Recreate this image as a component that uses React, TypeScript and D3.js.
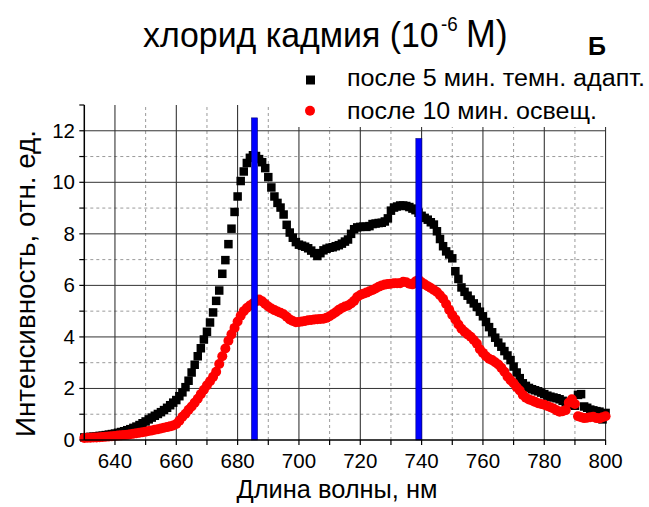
import React from "react";
import * as d3 from "d3";

// Spectra sampled every 1 nm from 630 to 800 nm
const wavelengths: number[] = d3.range(630, 801, 1);

// after 5 min of dark adaptation (black squares)
const darkAdapted: number[] = [
  0.10, 0.11, 0.12, 0.13, 0.14, 0.16, 0.17, 0.19, 0.21, 0.23,
  0.25, 0.28, 0.31, 0.34, 0.38, 0.42, 0.47, 0.52, 0.58, 0.65,
  0.72, 0.80, 0.87, 0.94, 1.01, 1.08, 1.16, 1.25, 1.35, 1.45,
  1.55, 1.70, 1.85, 2.05, 2.30, 2.62, 2.92, 3.25, 3.56, 3.90,
  4.20, 4.56, 4.95, 5.40, 5.80, 6.45, 6.98, 7.60, 8.20, 8.85,
  9.45, 10.05, 10.42, 10.75, 10.95, 11.05, 11.02, 10.90, 10.78, 10.55,
  10.20, 9.80, 9.45, 9.20, 9.02, 8.75, 8.35, 8.05, 7.85, 7.68,
  7.58, 7.54, 7.50, 7.44, 7.35, 7.25, 7.14, 7.25, 7.36, 7.42,
  7.46, 7.48, 7.52, 7.56, 7.62, 7.70, 7.78, 8.00, 8.18, 8.25,
  8.27, 8.28, 8.27, 8.30, 8.38, 8.40, 8.42, 8.43, 8.48, 8.60,
  8.90, 9.02, 9.06, 9.10, 9.10, 9.08, 9.04, 8.98, 8.92, 8.82,
  8.70, 8.62, 8.55, 8.45, 8.36, 8.10, 7.80, 7.52, 7.32, 7.20,
  7.05, 6.55, 6.25, 5.92, 5.75, 5.60, 5.45, 5.30, 5.16, 4.98,
  4.80, 4.58, 4.38, 4.18, 3.97, 3.78, 3.62, 3.45, 3.28, 3.10,
  2.85, 2.62, 2.40, 2.20, 2.10, 2.02, 1.97, 1.93, 1.89, 1.84,
  1.78, 1.72, 1.68, 1.65, 1.62, 1.58, 1.52, 1.46, 1.40, 1.36,
  1.33, 1.75, 1.78, 1.30, 1.25, 1.18, 1.15, 1.12, 1.10, 0.80,
  1.05,
];

// after 10 min of illumination (red circles)
const illuminated: number[] = [
  0.08, 0.09, 0.09, 0.10, 0.10, 0.11, 0.12, 0.13, 0.14, 0.15,
  0.16, 0.17, 0.18, 0.19, 0.20, 0.22, 0.24, 0.26, 0.28, 0.30,
  0.32, 0.35, 0.37, 0.40, 0.42, 0.45, 0.48, 0.50, 0.53, 0.56,
  0.62, 0.75, 0.90, 1.02, 1.17, 1.30, 1.45, 1.60, 1.78, 1.95,
  2.12, 2.28, 2.45, 2.65, 2.95, 3.25, 3.55, 3.85, 4.10, 4.35,
  4.60, 4.82, 5.00, 5.12, 5.22, 5.30, 5.38, 5.45, 5.38, 5.28,
  5.18, 5.10, 5.04, 4.99, 4.94, 4.88, 4.78, 4.68, 4.62, 4.57,
  4.58, 4.60, 4.62, 4.65, 4.66, 4.68, 4.69, 4.70, 4.71, 4.74,
  4.80, 4.88, 4.96, 5.05, 5.12, 5.18, 5.22, 5.30, 5.40, 5.55,
  5.63, 5.68, 5.72, 5.77, 5.82, 5.88, 5.95, 6.00, 6.03, 6.05,
  6.06, 6.08, 6.08, 6.08, 6.14, 6.12, 6.06, 6.04, 6.15, 6.22,
  6.12, 6.04, 5.97, 5.90, 5.82, 5.74, 5.62, 5.48, 5.28, 5.05,
  4.85, 4.68, 4.48, 4.32, 4.20, 4.10, 4.01, 3.88, 3.74, 3.52,
  3.38, 3.25, 3.15, 3.10, 3.02, 2.93, 2.80, 2.65, 2.46, 2.32,
  2.20, 2.05, 1.92, 1.75, 1.64, 1.57, 1.53, 1.48, 1.43, 1.40,
  1.37, 1.32, 1.27, 1.22, 1.15, 1.10, 1.12, 1.16, 1.45, 1.58,
  1.40, 0.92, 0.88, 0.85, 0.86, 0.88, 0.90, 0.85, 0.84, 0.88,
  0.92,
];

// Reference wavelengths marked with blue bars, and their heights
const markerWavelengths: number[] = [685.5, 739.1];
const markerHeights: number[] = [12.5, 11.7];

const xMajorTicks: number[] = [640, 660, 680, 700, 720, 740, 760, 780, 800];
const xMinorTicks: number[] = [650, 670, 690, 710, 730, 750, 770, 790];
const yMajorTicks: number[] = [0, 2, 4, 6, 8, 10, 12];
const yMinorTicks: number[] = [1, 3, 5, 7, 9, 11, 13];

const legendLabels: string[] = ["после 5 мин. темн. адапт.", "после 10 мин. освещ."];

const W = 649;
const H = 507;
const FONT = "Arial, 'Liberation Sans', Helvetica, sans-serif";

// title is drawn slightly condensed horizontally
const TITLE_X = 143;
const TITLE_SCALE = 0.94;
const tx = (absX: number) => (absX - TITLE_X) / TITLE_SCALE;

export default function App() {
  const x = d3.scaleLinear().domain([630, 800]).range([84.3, 605.6]);
  const y = d3.scaleLinear().domain([0, 13]).range([440, 105]);
  const [x0, x1] = x.range();
  const [yb, yt] = y.range();

  const allXTicks = [...xMajorTicks, ...xMinorTicks];
  const allYTicks = [...yMajorTicks, ...yMinorTicks];

  const sq = 8.5;

  return (
    <svg
      width={W}
      height={H}
      viewBox={`0 0 ${W} ${H}`}
      style={{ position: "absolute", left: 0, top: 0, background: "#fff" }}
      fontFamily={FONT}
    >
      <rect x={0} y={0} width={W} height={H} fill="#fff" />

      {/* minor grid */}
      {xMinorTicks.map((t) => (
        <line key={`gxm${t}`} x1={x(t)} x2={x(t)} y1={yb} y2={yt}
          stroke="#9a9a9a" strokeWidth={1} strokeDasharray="3,3" />
      ))}
      {yMinorTicks.filter((t) => t < 13).map((t) => (
        <line key={`gym${t}`} x1={x0} x2={x1} y1={y(t)} y2={y(t)}
          stroke="#9a9a9a" strokeWidth={1} strokeDasharray="3,3" />
      ))}
      {/* major grid */}
      {xMajorTicks.map((t) => (
        <line key={`gx${t}`} x1={x(t)} x2={x(t)} y1={yb} y2={yt}
          stroke="#222" strokeWidth={1} />
      ))}
      {yMajorTicks.filter((t) => t > 0).map((t) => (
        <line key={`gy${t}`} x1={x0} x2={x1} y1={y(t)} y2={y(t)}
          stroke="#333" strokeWidth={1} />
      ))}

      {/* dark adapted spectrum */}
      <g fill="#000">
        {wavelengths.map((w, i) => (
          <rect key={`b${w}`} x={x(w) - sq / 2} y={y(darkAdapted[i]) - sq / 2}
            width={sq} height={sq} />
        ))}
      </g>
      {/* illuminated spectrum */}
      <g fill="#ff0000">
        {wavelengths.map((w, i) => (
          <circle key={`r${w}`} cx={x(w)} cy={y(illuminated[i])} r={5} />
        ))}
      </g>

      {/* blue reference bars */}
      {markerWavelengths.map((w, i) => (
        <rect key={`m${w}`} x={x(w) - 3} y={y(markerHeights[i])} width={6}
          height={y(0) - y(markerHeights[i])} fill="#0000ff" stroke="#00007a" strokeWidth={0.6} />
      ))}

      {/* axes */}
      <line x1={x0} x2={x1} y1={yb} y2={yb} stroke="#000" strokeWidth={1.5} />
      <line x1={x0} x2={x0} y1={yb} y2={yt} stroke="#000" strokeWidth={1.5} />
      {allXTicks.map((t) => (
        <line key={`tx${t}`} x1={x(t)} x2={x(t)} y1={yb} y2={yb + 5} stroke="#000" strokeWidth={1.2} />
      ))}
      {allYTicks.map((t) => (
        <line key={`ty${t}`} x1={x0 - 5} x2={x0} y1={y(t)} y2={y(t)} stroke="#000" strokeWidth={1.2} />
      ))}
      {xMajorTicks.map((t) => (
        <text key={`lx${t}`} x={x(t)} y={468} fontSize={20.5} textAnchor="middle" fill="#000">{t}</text>
      ))}
      {yMajorTicks.map((t) => (
        <text key={`ly${t}`} x={75} y={y(t) + 7} fontSize={20.5} textAnchor="end" fill="#000">{t}</text>
      ))}

      {/* axis titles */}
      <text x={337} y={498} fontSize={26} textAnchor="middle" fill="#000"
        textLength={201} lengthAdjust="spacingAndGlyphs">Длина волны, нм</text>
      <text transform="translate(35,283.5) rotate(-90)" fontSize={27} textAnchor="middle" fill="#000"
        textLength={307} lengthAdjust="spacingAndGlyphs">Интенсивность, отн. ед.</text>

      {/* legend */}
      <rect x={285} y={60} width={364} height={67} fill="#fff" />
      <rect x={310.5 - 4.5} y={80 - 4.5} width={9} height={9} fill="#000" />
      <circle cx={310} cy={110.7} r={5} fill="#ff0000" />
      <text x={347} y={86} fontSize={23} fill="#000" textLength={298}
        lengthAdjust="spacingAndGlyphs">{legendLabels[0]}</text>
      <text x={347} y={119} fontSize={23} fill="#000" textLength={250}
        lengthAdjust="spacingAndGlyphs">{legendLabels[1]}</text>

      {/* title with superscript exponent */}
      <text transform={`translate(${TITLE_X},47) scale(${TITLE_SCALE},1)`} fontSize={36} fill="#000">
        <tspan x={0} y={0}>хлорид кадмия (10</tspan>
        <tspan x={tx(441)} y={-16} fontSize={20}>-6</tspan>
        <tspan x={tx(466)} y={0} fontSize={38}>М)</tspan>
      </text>
      <text x={588} y={55} fontSize={25} fontWeight="bold" fill="#000">Б</text>
    </svg>
  );
}
